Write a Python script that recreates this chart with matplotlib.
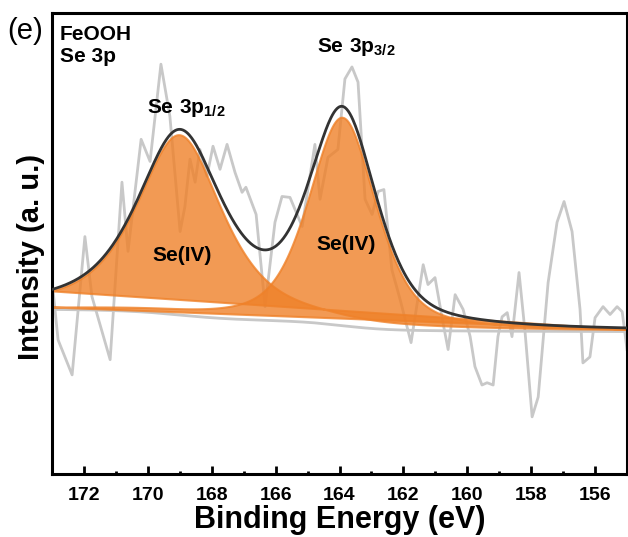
import numpy as np
import matplotlib
matplotlib.use('Agg')
import matplotlib.pyplot as plt

plt.rcParams['font.family'] = ['Liberation Sans', 'DejaVu Sans']
plt.rcParams['mathtext.fontset'] = 'custom'
plt.rcParams['mathtext.rm'] = 'Liberation Sans'
plt.rcParams['mathtext.bf'] = 'Liberation Sans:bold'

# raw Se 3p spectrum (binding energy in eV, intensity in a.u.)
be_raw = [173.00, 172.81, 172.37, 171.97, 171.75, 171.18, 170.81, 170.62, 170.21, 169.93,
          169.59, 169.31, 168.99, 168.84, 168.68, 168.52, 168.37, 168.15, 167.96, 167.74,
          167.52, 167.27, 167.05, 166.93, 166.61, 166.33, 166.02, 165.80, 165.55, 165.17,
          164.77, 164.61, 164.36, 164.05, 163.83, 163.61, 163.42, 163.20, 162.98, 162.79,
          162.61, 162.36, 162.10, 161.76, 161.38, 161.23, 161.01, 160.76, 160.60, 160.38,
          160.13, 159.91, 159.76, 159.54, 159.38, 159.19, 159.04, 158.91, 158.75, 158.60,
          158.38, 158.19, 157.97, 157.78, 157.47, 157.19, 156.97, 156.72, 156.47, 156.38,
          156.16, 156.00, 155.75, 155.53, 155.31, 155.15, 155.00]
int_raw = [42.0, 29.1, 21.5, 51.5, 38.5, 24.8, 63.3, 48.3, 72.6, 67.8,
           88.9, 77.6, 52.6, 58.0, 68.3, 63.3, 70.4, 64.6, 71.1, 66.1,
           71.5, 65.4, 61.1, 62.2, 56.3, 36.3, 54.6, 60.2, 60.0, 53.7,
           71.5, 59.6, 68.7, 70.4, 85.7, 88.3, 85.0, 59.6, 56.3, 61.3,
           61.7, 44.3, 37.8, 28.5, 45.4, 41.1, 42.6, 32.8, 27.0, 38.9,
           35.7, 29.8, 23.3, 19.3, 19.8, 19.3, 29.8, 34.1, 35.0, 29.8,
           43.7, 30.7, 12.4, 16.7, 41.5, 54.6, 59.1, 52.6, 35.7, 24.1,
           25.4, 33.9, 36.3, 34.6, 36.3, 35.2, 27.0]

# fit components: Se(IV) 3p1/2 and Se(IV) 3p3/2 (pseudo-Voigt)
peak_center = [169.0, 163.9]
peak_height = [39.0, 45.1]
peak_hwhm = [1.6, 1.25]
peak_lor = [0.7, 0.5]
bg_high, bg_low = 35.7, 30.9   # Shirley background end levels at 173 / 155 eV


def pvoigt(x, c, h, w, m):
    u = ((x - c) / w) ** 2
    return h * ((1 - m) * np.exp(-np.log(2) * u) + m / (1 + u))


e = np.linspace(155, 173, 721)
peaks = [pvoigt(e, c, h, w, m) for c, h, w, m in
         zip(peak_center, peak_height, peak_hwhm, peak_lor)]
total = peaks[0] + peaks[1]
area = np.concatenate([[0], np.cumsum((total[1:] + total[:-1]) / 2 * np.diff(e))])
bg = bg_low + (bg_high - bg_low) * area / area[-1]
env = bg + total

fig = plt.figure(figsize=(6.28, 5.37), dpi=100)
ax = fig.add_axes([52 / 628, 63 / 537, 575 / 628, 461 / 537])

ax.plot(be_raw, int_raw, color='#c8c8c8', lw=2, zorder=1)
ax.plot(e, bg, color='#c8c8c8', lw=2, zorder=1)
for p in peaks:
    ax.fill(e, bg + p, facecolor='#ef8129', edgecolor='#ef8129', alpha=0.8, lw=1.5, zorder=2)
ax.plot(e, env, color='#333333', lw=2, zorder=3)

ax.set_xlim(173, 155)
ax.set_ylim(0, 100)
ax.set_yticks([])
ax.set_xticks(np.arange(156, 173, 2))
ax.set_xticks(np.arange(157, 173, 2), minor=True)
ax.tick_params(axis='x', which='major', direction='in', length=6, width=2, pad=9,
               labelsize=14)
ax.tick_params(axis='x', which='minor', direction='in', length=2.5, width=2)
for lab in ax.get_xticklabels():
    lab.set_fontweight('bold')
for s in ax.spines.values():
    s.set_linewidth(2.2)

ax.set_xlabel('Binding Energy (eV)', fontsize=22, fontweight='bold', labelpad=1)
ax.set_ylabel('Intensity (a. u.)', fontsize=21, fontweight='bold')
ax.yaxis.set_label_coords(-0.012, 0.47)

fig.text(25 / 628, 1 - 31 / 537, '(e)', fontsize=21, ha='center', va='center')
ax.text(0.014, 0.941, 'FeOOH', transform=ax.transAxes, fontsize=15, fontweight='bold')
ax.text(0.014, 0.894, 'Se 3p', transform=ax.transAxes, fontsize=15, fontweight='bold')
ax.text(0.165, 0.783, r'$\mathbf{Se\ 3p_{1/2}}$', transform=ax.transAxes, fontsize=15)
ax.text(0.461, 0.915, r'$\mathbf{Se\ 3p_{3/2}}$', transform=ax.transAxes, fontsize=15)
ax.text(0.226, 0.462, 'Se(IV)', transform=ax.transAxes, fontsize=15, fontweight='bold',
        ha='center')
ax.text(0.511, 0.486, 'Se(IV)', transform=ax.transAxes, fontsize=15, fontweight='bold',
        ha='center')

fig.savefig('out.png', dpi=100)
